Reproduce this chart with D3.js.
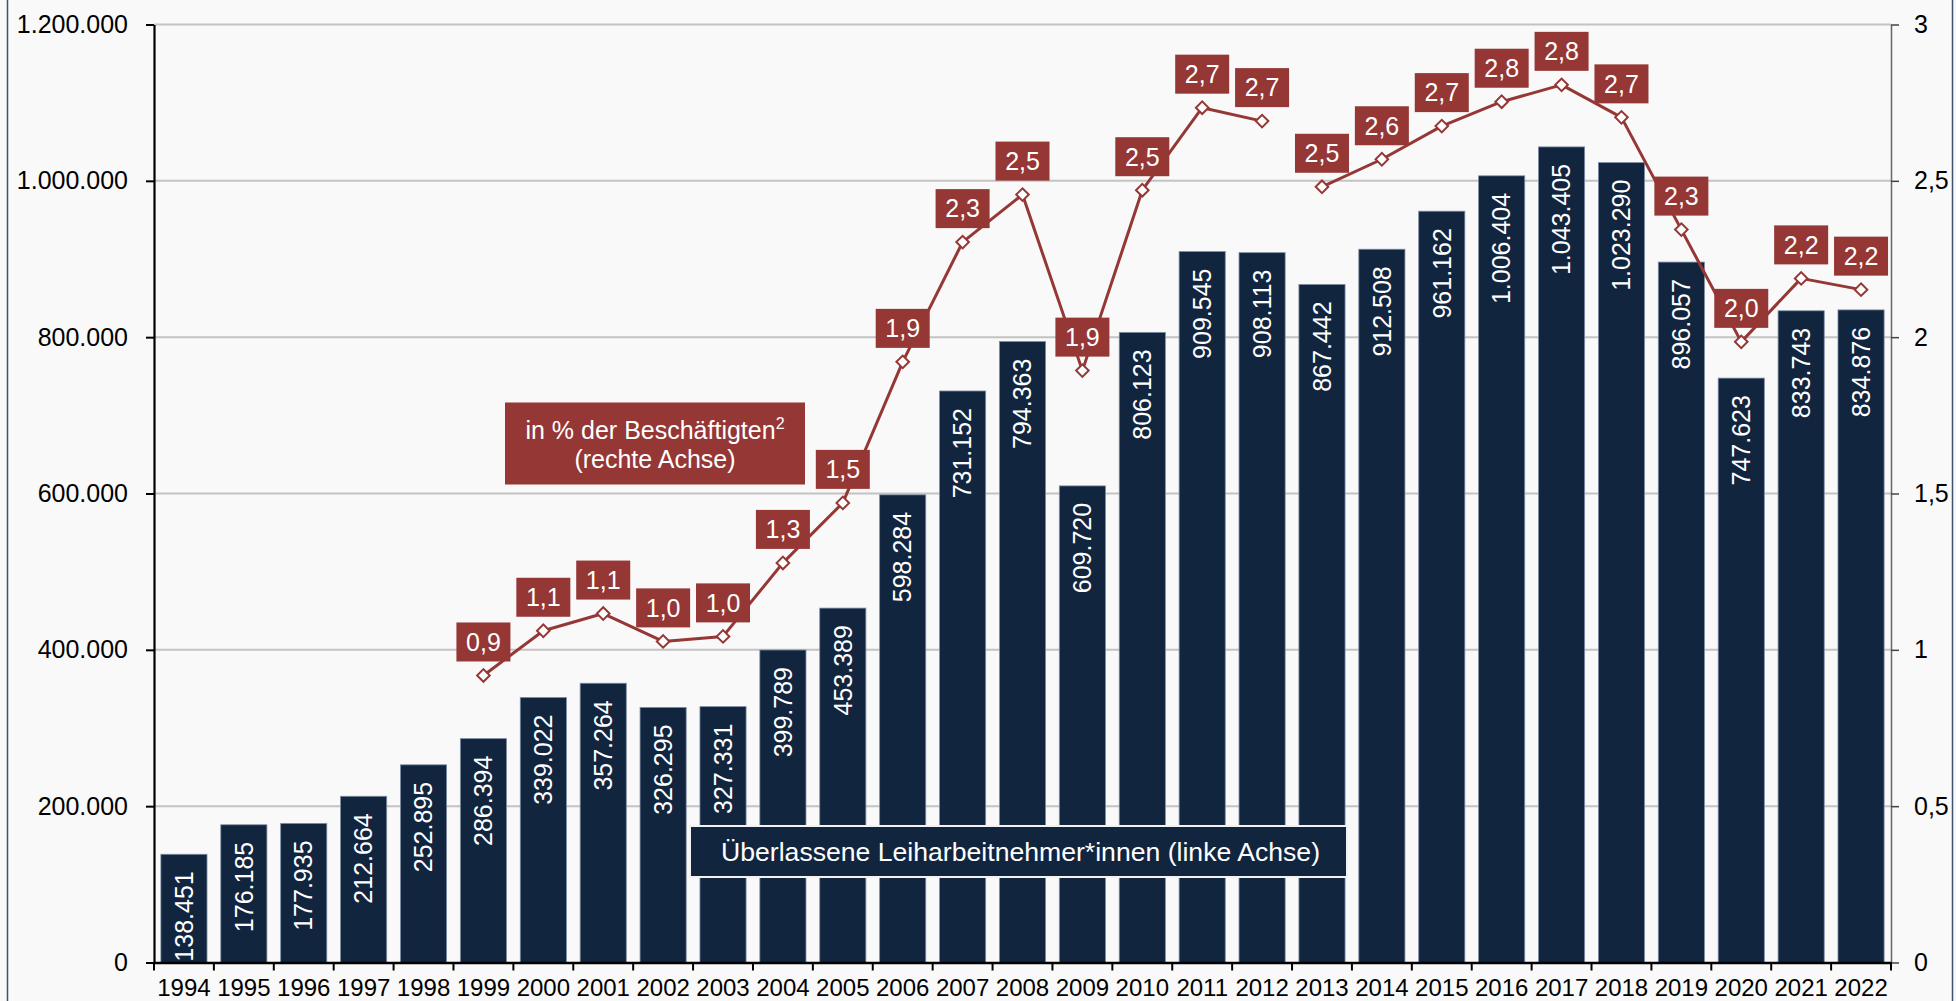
<!DOCTYPE html>
<html><head><meta charset="utf-8">
<script src="https://cdn.jsdelivr.net/npm/d3@7/dist/d3.min.js"></script>
<style>
html,body{margin:0;padding:0;background:#f9f9f9;}
svg{display:block;font-family:"Liberation Sans",Arial,sans-serif;}
</style></head>
<body>
<svg id="chart" width="1956" height="1001"></svg>
<script>
// ---------- data ----------
const years = ["1994","1995","1996","1997","1998","1999","2000","2001","2002","2003","2004","2005","2006","2007","2008","2009","2010","2011","2012","2013","2014","2015","2016","2017","2018","2019","2020","2021","2022"];
const leiharbeitnehmer = [138451,176185,177935,212664,252895,286394,339022,357264,326295,327331,399789,453389,598284,731152,794363,609720,806123,909545,908113,867442,912508,961162,1006404,1043405,1023290,896057,747623,833743,834876];
// share of employees (right axis), two separate segments (break between 2012 and 2013)
const quoteYearsA = ["1999","2000","2001","2002","2003","2004","2005","2006","2007","2008","2009","2010","2011","2012"];
const quoteA = [0.918,1.061,1.116,1.027,1.043,1.278,1.470,1.921,2.304,2.456,1.893,2.470,2.734,2.691];
const quoteYearsB = ["2013","2014","2015","2016","2017","2018","2019","2020","2021","2022"];
const quoteB = [2.481,2.569,2.675,2.753,2.807,2.703,2.344,1.985,2.188,2.152];
const leftTicks = [0,200000,400000,600000,800000,1000000,1200000];
const rightTicks = [0,0.5,1,1.5,2,2.5,3];
const legendLine = ["in % der Beschäftigten", "(rechte Achse)"];
const legendBars = "Überlassene Leiharbeitnehmer*innen (linke Achse)";

// ---------- setup ----------
const locale = d3.formatLocale({decimal:",", thousands:".", grouping:[3], currency:["","€"]});
const fmtInt = locale.format(",d");
const fmt1 = locale.format(".1f");
const fmtAxisR = v => locale.format("~g")(v);

const RED = "#953735", NAVY = "#12253f", FONT = 25;
const svg = d3.select("#chart");
const L = 154, R = 1891, T = 24.5, B = 962.5;

svg.append("rect").attr("x",0).attr("y",0).attr("width",1956).attr("height",1001).attr("fill","#f9f9f9");
svg.append("rect").attr("x",7.5).attr("y",-5).attr("width",1945).attr("height",1015)
  .attr("fill","none").attr("stroke","#3d5272").attr("stroke-width",1.5);

const x = d3.scaleBand().domain(years).range([L,R]).paddingInner(0.23).paddingOuter(0.115);
const yL = d3.scaleLinear().domain([0,1200000]).range([B,T]);
const yR = d3.scaleLinear().domain([0,3]).range([B,T]);

// gridlines
svg.append("g").selectAll("line").data(leftTicks.filter(d=>d>0)).join("line")
  .attr("x1",L).attr("x2",R).attr("y1",d=>yL(d)).attr("y2",d=>yL(d))
  .attr("stroke","#c3c3c3").attr("stroke-width",2);

// bars
const data = years.map((y,i)=>({year:y, v:leiharbeitnehmer[i]}));
svg.append("g").selectAll("rect").data(data).join("rect")
  .attr("x",d=>x(d.year)).attr("width",x.bandwidth())
  .attr("y",d=>yL(d.v)).attr("height",d=>yL(0)-yL(d.v))
  .attr("fill",NAVY).attr("stroke","#7d8ca3").attr("stroke-width",0.8);

// bar labels
svg.append("g").selectAll("text").data(data).join("text")
  .attr("transform",d=>`translate(${x(d.year)+x.bandwidth()/2},${yL(d.v)+17}) rotate(-90)`)
  .attr("text-anchor","end").attr("dy","0.35em")
  .attr("fill","#ffffff").attr("font-size",FONT)
  .text(d=>fmtInt(d.v));

// axes
const axL = svg.append("g").attr("transform",`translate(${L},0)`)
  .call(d3.axisLeft(yL).tickValues(leftTicks).tickSize(8).tickSizeOuter(0).tickPadding(18).tickFormat(fmtInt));
axL.select(".domain").attr("stroke","#000").attr("stroke-width",2.2);
axL.selectAll(".tick line").attr("stroke","#000").attr("stroke-width",2);
axL.selectAll("text").attr("font-size",FONT).attr("fill","#000").attr("font-family","Liberation Sans, Arial, sans-serif");

const axR = svg.append("g").attr("transform",`translate(${R},0)`)
  .call(d3.axisRight(yR).tickValues(rightTicks).tickSize(8).tickSizeOuter(0).tickPadding(15).tickFormat(fmtAxisR));
axR.select(".domain").attr("stroke","#666").attr("stroke-width",1.5);
axR.selectAll(".tick line").attr("stroke","#444").attr("stroke-width",1.5);
axR.selectAll("text").attr("font-size",FONT).attr("fill","#000").attr("font-family","Liberation Sans, Arial, sans-serif");

const axB = svg.append("g").attr("transform",`translate(0,${B})`)
  .call(d3.axisBottom(x).tickSize(0).tickSizeOuter(0).tickPadding(16));
axB.select(".domain").attr("stroke","#000").attr("stroke-width",2.5);
axB.selectAll("text").attr("font-size",24).attr("fill","#000").attr("font-family","Liberation Sans, Arial, sans-serif");
// category boundary ticks
const step = x.step(), gap = step - x.bandwidth();
const bounds = years.map(y=>x(y)-gap/2).concat([x(years[years.length-1])+x.bandwidth()+gap/2]);
axB.append("g").selectAll("line").data(bounds).join("line")
  .attr("x1",d=>d).attr("x2",d=>d).attr("y1",0).attr("y2",8)
  .attr("stroke","#000").attr("stroke-width",2);

// lines
const segA = quoteYearsA.map((y,i)=>({year:y, v:quoteA[i]}));
const segB = quoteYearsB.map((y,i)=>({year:y, v:quoteB[i]}));
const cx = d => x(d.year)+x.bandwidth()/2;
const line = d3.line().x(cx).y(d=>yR(d.v));
[segA,segB].forEach(seg=>{
  svg.append("path").datum(seg).attr("d",line)
    .attr("fill","none").attr("stroke",RED).attr("stroke-width",3).attr("stroke-linejoin","round");
});
const pts = segA.concat(segB);
const diamond = d3.symbol(d3.symbolSquare, 2*6.3*6.3);
svg.append("g").selectAll("path").data(pts).join("path")
  .attr("d",diamond())
  .attr("transform",d=>`translate(${cx(d)},${yR(d.v)}) rotate(45)`)
  .attr("fill","#ffffff").attr("stroke",RED).attr("stroke-width",2);

// point labels
const lab = svg.append("g").selectAll("g").data(pts).join("g")
  .attr("transform",d=>`translate(${cx(d)},${yR(d.v)-14-19.5})`);
lab.append("rect").attr("x",-27).attr("y",-19.5).attr("width",54).attr("height",39).attr("fill",RED);
lab.append("text").attr("text-anchor","middle").attr("y",8.8)
  .attr("fill","#fff").attr("font-size",FONT).text(d=>fmt1(d.v));

// legend: red box
const lg1 = svg.append("g");
lg1.append("rect").attr("x",505).attr("y",402.5).attr("width",300).attr("height",82).attr("fill",RED);
const t1 = lg1.append("text").attr("x",655).attr("y",438.5).attr("text-anchor","middle").attr("fill","#fff").attr("font-size",FONT);
t1.append("tspan").text(legendLine[0]);
t1.append("tspan").attr("font-size",16).attr("dy",-10).text("2");
lg1.append("text").attr("x",655).attr("y",468).attr("text-anchor","middle").attr("fill","#fff").attr("font-size",FONT).text(legendLine[1]);

// legend: navy box
const lg2 = svg.append("g");
lg2.append("rect").attr("x",690).attr("y",826).attr("width",657).attr("height",51)
  .attr("fill",NAVY).attr("stroke","#f2f2f2").attr("stroke-width",2);
lg2.append("text").attr("x",721).attr("y",861).attr("fill","#fff").attr("font-size",26)
  .attr("textLength",599).attr("lengthAdjust","spacingAndGlyphs").text(legendBars);
</script>
</body></html>
